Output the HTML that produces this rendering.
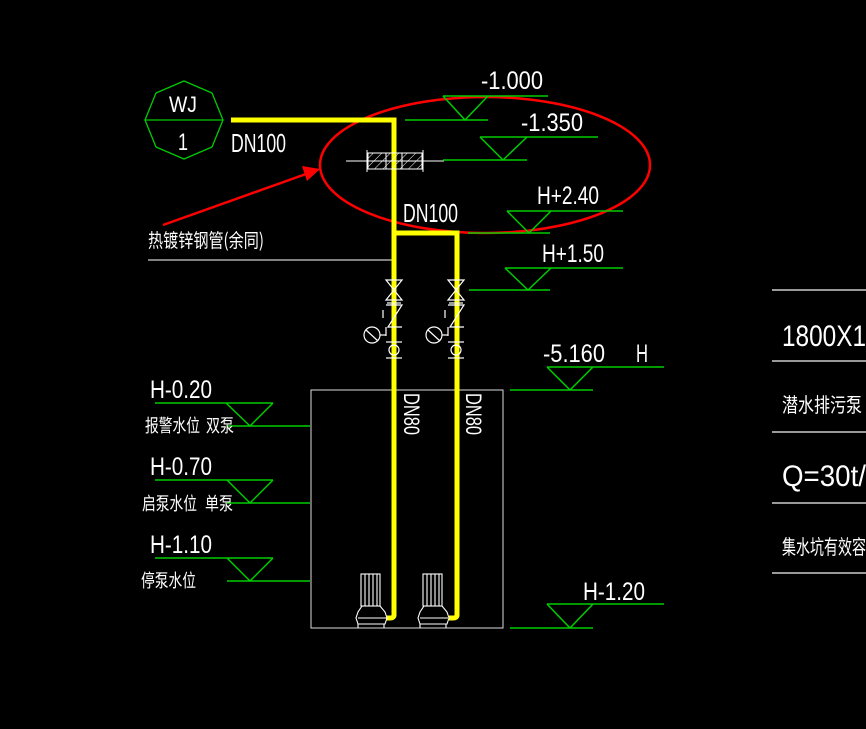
<!DOCTYPE html>
<html><head><meta charset="utf-8"><style>
html,body{margin:0;padding:0;background:#000;width:866px;height:729px;overflow:hidden}
svg{display:block}
text{font-family:"Liberation Sans Narrow","Liberation Sans",sans-serif;fill:#fff}
.c{font-family:"Noto Sans CJK SC","WenQuanYi Zen Hei",sans-serif;fill:#fff}
</style></head><body>
<svg width="866" height="729" viewBox="0 0 866 729" xmlns="http://www.w3.org/2000/svg">
<rect width="866" height="729" fill="#000"/>
<!-- WJ octagon -->
<polygon points="184,81 212,93 223,120 212,147 184,159 156,147 145,120 156,93" fill="none" stroke="#0c0" stroke-width="1.3"/>
<line x1="145" y1="120" x2="223" y2="120" stroke="#0c0" stroke-width="1.3"/>
<text x="169" y="112" font-size="22" textLength="28" lengthAdjust="spacingAndGlyphs">WJ</text>
<text x="178" y="150" font-size="24" textLength="10" lengthAdjust="spacingAndGlyphs">1</text>

<!-- red annotation -->
<ellipse cx="485" cy="165" rx="165" ry="68" fill="none" stroke="#f00" stroke-width="2.5"/>
<line x1="163" y1="225" x2="306" y2="174" stroke="#f00" stroke-width="2.5"/>
<polygon points="320,169 302,166 307,181" fill="#f00"/>

<!-- label line -->
<line x1="148" y1="260" x2="393" y2="260" stroke="#fff" stroke-width="1"/>
<text class="c" x="148" y="247" font-size="19" textLength="116" lengthAdjust="spacingAndGlyphs">热镀锌钢管(余同)</text>

<!-- box -->
<rect x="311" y="390" width="192" height="238" fill="none" stroke="#ddd" stroke-width="1"/>

<!-- yellow pipes -->
<g fill="none" stroke="#ff0" stroke-width="5">
<path d="M231,120 H394 V615 Q394,618 390,618 H386"/>
<path d="M394,233 H457 V615 Q457,618 453,618 H449"/>
</g>
<text x="231" y="152" font-size="26" textLength="55" lengthAdjust="spacingAndGlyphs">DN100</text>
<text x="403" y="222" font-size="26" textLength="55" lengthAdjust="spacingAndGlyphs">DN100</text>
<text x="0" y="0" font-size="22" textLength="42" lengthAdjust="spacingAndGlyphs" transform="translate(404,393) rotate(90)">DN80</text>
<text x="0" y="0" font-size="22" textLength="42" lengthAdjust="spacingAndGlyphs" transform="translate(466,393) rotate(90)">DN80</text>

<!-- sleeve -->
<defs><pattern id="h" width="6" height="6" patternUnits="userSpaceOnUse" patternTransform="rotate(45)"><line x1="0" y1="0" x2="0" y2="6" stroke="#fff" stroke-width="1"/></pattern></defs>
<rect x="368" y="153" width="54" height="16" fill="url(#h)" stroke="#fff" stroke-width="1"/>
<line x1="346" y1="161" x2="444" y2="161" stroke="#fff" stroke-width="1"/>
<line x1="367" y1="150" x2="367" y2="172" stroke="#fff"/><line x1="423" y1="150" x2="423" y2="172" stroke="#fff"/>
<line x1="386" y1="153" x2="386" y2="169" stroke="#fff"/><line x1="402" y1="153" x2="402" y2="169" stroke="#fff"/>

<!-- valves -->
<g id="v" fill="none" stroke="#fff" stroke-width="1.2">
<path d="M386,280 L402,300 L386,300 L402,280 Z"/>
<line x1="387" y1="303" x2="401" y2="303"/>
<path d="M386,305 H402 L388,327 H402"/>
<line x1="383" y1="310" x2="383" y2="318"/>
<line x1="386" y1="327" x2="386" y2="336"/>
<circle cx="372" cy="335" r="8"/>
<line x1="366" y1="330" x2="378" y2="341"/>
<line x1="380" y1="335" x2="386" y2="335"/>
<line x1="386" y1="342" x2="402" y2="342"/>
<circle cx="394" cy="350" r="5"/>
<line x1="386" y1="358" x2="402" y2="358"/>
</g>
<use href="#v" transform="translate(62,0)"/>

<!-- pumps -->
<g id="p" fill="none" stroke="#fff" stroke-width="1.1">
<rect x="361" y="574" width="19" height="32"/>
<line x1="365" y1="574" x2="365" y2="606"/><line x1="369" y1="574" x2="369" y2="606"/><line x1="373" y1="574" x2="373" y2="606"/><line x1="377" y1="574" x2="377" y2="606"/>
<path d="M362,606 L358,612 L356,618 L358,624 H385 L387,618 L385,612 L380,606"/>
<line x1="358" y1="618" x2="386" y2="618"/>
<line x1="358" y1="624" x2="358" y2="628"/><line x1="384" y1="624" x2="384" y2="628"/>
</g>
<use href="#p" transform="translate(62,0)"/>

<!-- elevation markers -->
<g stroke="#0c0" stroke-width="1.5" fill="none">
<path d="M443,96 H548 M443,96 L465,120 L488,96 M405,120 H488"/>
<path d="M480,137 H598 M480,137 L503,160 L527,137 M443,160 H527"/>
<path d="M507,211 H623 M507,211 L529,233 L551,211 M468,233 H550"/>
<path d="M505,268 H623 M505,268 L528,290 L551,268 M469,290 H550"/>
<path d="M547,367 H664 M547,367 L570,390 L593,367 M510,390 H593"/>
<path d="M547,604 H664 M547,604 L570,628 L593,604 M510,628 H593"/>
<path d="M155,403 H273 M226,403 L250,426 L273,403 M227,426 H310"/>
<path d="M155,480 H273 M227,480 L250,503 L273,480 M227,503 H310"/>
<path d="M155,558 H273 M227,558 L250,581 L273,558 M227,581 H310"/>
</g>
<g font-size="25">
<text x="481" y="89" textLength="62" lengthAdjust="spacingAndGlyphs">-1.000</text>
<text x="521" y="131" textLength="62" lengthAdjust="spacingAndGlyphs">-1.350</text>
<text x="537" y="204" textLength="62" lengthAdjust="spacingAndGlyphs">H+2.40</text>
<text x="542" y="262" textLength="62" lengthAdjust="spacingAndGlyphs">H+1.50</text>
<text x="543" y="362" textLength="62" lengthAdjust="spacingAndGlyphs">-5.160</text>
<text x="636" y="362" textLength="12" lengthAdjust="spacingAndGlyphs">H</text>
<text x="583" y="600" textLength="62" lengthAdjust="spacingAndGlyphs">H-1.20</text>
<text x="150" y="398" textLength="62" lengthAdjust="spacingAndGlyphs">H-0.20</text>
<text x="150" y="475" textLength="62" lengthAdjust="spacingAndGlyphs">H-0.70</text>
<text x="150" y="553" textLength="62" lengthAdjust="spacingAndGlyphs">H-1.10</text>
</g>
<text class="c" x="145" y="432" font-size="18" textLength="55" lengthAdjust="spacingAndGlyphs">报警水位</text>
<text class="c" x="206" y="432" font-size="18" textLength="28" lengthAdjust="spacingAndGlyphs">双泵</text>
<text class="c" x="142" y="510" font-size="18" textLength="55" lengthAdjust="spacingAndGlyphs">启泵水位</text>
<text class="c" x="205" y="510" font-size="18" textLength="28" lengthAdjust="spacingAndGlyphs">单泵</text>
<text class="c" x="141" y="587" font-size="18" textLength="55" lengthAdjust="spacingAndGlyphs">停泵水位</text>

<!-- right table -->
<g stroke="#ccc" stroke-width="1.5">
<line x1="772" y1="290" x2="866" y2="290"/>
<line x1="772" y1="361" x2="866" y2="361"/>
<line x1="772" y1="432" x2="866" y2="432"/>
<line x1="772" y1="503" x2="866" y2="503"/>
<line x1="772" y1="573" x2="866" y2="573"/>
</g>
<text x="782" y="346" font-size="30" textLength="84" lengthAdjust="spacingAndGlyphs">1800X1</text>
<text class="c" x="782" y="412" font-size="20" textLength="80" lengthAdjust="spacingAndGlyphs">潜水排污泵</text>
<text x="782" y="486" font-size="30" textLength="84" lengthAdjust="spacingAndGlyphs">Q=30t/</text>
<text class="c" x="782" y="554" font-size="20" textLength="84" lengthAdjust="spacingAndGlyphs">集水坑有效容</text>
</svg>
</body></html>
